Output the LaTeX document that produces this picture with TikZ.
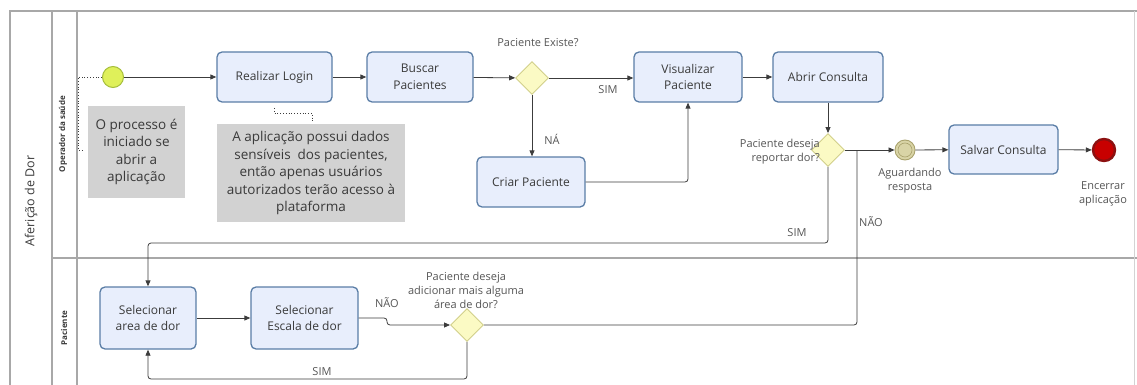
\documentclass[tikz,border=0pt]{standalone}
\usepackage{fontspec}
\setmainfont{Open Sans}
\usetikzlibrary{shapes.geometric,arrows.meta}
\definecolor{taskfill}{HTML}{E8EEFC}
\definecolor{taskdraw}{HTML}{5A7DA6}
\definecolor{gwfill}{HTML}{FBFAC4}
\definecolor{gwdraw}{HTML}{D2D08A}
\definecolor{startfill}{HTML}{DFF05A}
\definecolor{startdraw}{HTML}{A6BE3C}
\definecolor{ievfill}{HTML}{D9D4A6}
\definecolor{ievdraw}{HTML}{A9A26C}
\definecolor{endfill}{HTML}{C80000}
\definecolor{enddraw}{HTML}{8C1010}
\definecolor{notefill}{HTML}{D2D2D2}
\definecolor{lanecol}{HTML}{A8A8A8}
\definecolor{flowcol}{HTML}{3C3C3C}
\definecolor{txtcol}{HTML}{3A3A3A}
\definecolor{lblcol}{HTML}{555555}
\tikzset{
  task/.style={draw=taskdraw, fill=taskfill, line width=1.3pt, rounded corners=5pt,
    minimum width=108pt, minimum height=50pt, inner sep=0pt, align=center,
    font=\fontsize{12}{16.5}\selectfont, text=txtcol},
  gw/.style={diamond, aspect=1, draw=gwdraw, fill=gwfill, line width=0.9pt,
    minimum width=33pt, minimum height=33pt, inner sep=0pt},
  startev/.style={circle, draw=startdraw, fill=startfill, line width=1pt, minimum size=21pt, inner sep=0pt},
  iev/.style={circle, draw=ievdraw, fill=ievfill, line width=0.9pt, minimum size=20pt, inner sep=0pt},
  endev/.style={circle, draw=enddraw, fill=endfill, line width=2.4pt, minimum size=22pt, inner sep=0pt},
  note/.style={fill=notefill, inner sep=0pt, align=center, text=txtcol,
    font=\fontsize{13.5}{17.5}\selectfont},
  flow/.style={draw=flowcol, line width=0.8pt, rounded corners=3pt, -{Triangle[length=6pt,width=5pt]}},
  flowplain/.style={draw=flowcol, line width=0.8pt, rounded corners=3pt},
  assoc/.style={draw=flowcol, line width=0.8pt, dotted},
  lbl/.style={font=\fontsize{11}{14}\selectfont, text=lblcol, align=center, inner sep=0pt},
  lane/.style={draw=lanecol, line width=1.2pt}
}
\begin{document}
\begin{tikzpicture}[x=1pt,y=-1pt]
\useasboundingbox (0,0) rectangle (1137,385);
% pool and lanes
\draw[lane] (10,385) -- (10,11) -- (1137,11);
\draw[lane] (52,11) -- (52,385);
\draw[lane] (77,11) -- (77,385);
\draw[lane] (52,258) -- (1137,258);
\draw[draw=lanecol!50, line width=0.8pt] (1134,11) -- (1134,385);
\node[rotate=90, font=\fontsize{12.5}{15}\selectfont, text=txtcol] (pool) at (31,201) {Aferição de Dor};
\node[rotate=90, font=\fontsize{8}{9}\bfseries\selectfont, text=txtcol] (lane1) at (63,134) {Operador da saúde};
\node[rotate=90, font=\fontsize{8}{9}\bfseries\selectfont, text=txtcol] (lane2) at (64,328) {Paciente};

% annotations
\node[note, minimum width=97pt, minimum height=92pt] (note1) at (136.5,152) {O processo é\\iniciado se\\abrir a\\aplicação};
\node[note, minimum width=188pt, minimum height=98pt] (note2) at (311,173) {A aplicação possui dados\\sensíveis\ \ dos pacientes,\\então apenas usuários\\autorizados terão acesso à\\plataforma};

% nodes
\node[startev] (start) at (113,77) {};
\node[task, minimum width=115pt] (login) at (274.5,77) {Realizar Login};
\node[task, minimum width=106pt] (buscar) at (420,77) {Buscar\\Pacientes};
\node[gw] (g1) at (532,78) {};
\node[task] (visual) at (688,77) {Visualizar\\Paciente};
\node[task] (criar) at (531,182) {Criar Paciente};
\node[task, minimum width=110pt] (abrir) at (828,77) {Abrir Consulta};
\node[gw] (g2) at (828,150) {};
\node[iev] (wait) at (905,150) {};
\node[circle, draw=ievdraw, line width=0.6pt, minimum size=14pt, inner sep=0pt] (waitin) at (wait.center) {};
\node[task, minimum width=109pt, minimum height=49pt] (salvar) at (1003.5,149.5) {Salvar Consulta};
\node[endev] (end) at (1104,150) {};
\node[task, minimum width=96pt, minimum height=62pt] (area) at (148,318) {Selecionar\\area de dor};
\node[task, minimum width=107pt, minimum height=62pt] (escala) at (304.5,318) {Selecionar\\Escala de dor};
\node[gw] (g3) at (467,325) {};

% labels
\node[lbl] (lg1) at (538,43) {Paciente Existe?};
\node[lbl, align=right, anchor=east] (lg2) at (820,152) {Paciente deseja\\reportar dor?};
\node[lbl] (lg3) at (466,290) {Paciente deseja\\adicionar mais alguma\\área de dor?};
\node[lbl] (lwait) at (910,181) {Aguardando\\resposta};
\node[lbl] (lend) at (1103,194) {Encerrar\\aplicação};
\node[lbl] (lsim1) at (608,90) {SIM};
\node[lbl] (lna) at (552,139) {NÁ};
\node[lbl] (lsim2) at (797,233) {SIM};
\node[lbl] (lnao1) at (387,303) {NÃO};
\node[lbl] (lsim3) at (322,372) {SIM};
\node[lbl] (lnao2) at (871,222) {NÃO};

% associations
\coordinate (n1c) at (83,150);
\draw[assoc] (start.west) -- (78,77) -- (78,150) -- (n1c);
\coordinate (n2a) at (274,108);
\draw[assoc] (n2a) -- (274,113) -- (312,113) -- (312,123);

% flows
\draw[flow] (start) -- (login);
\draw[flow] (login) -- (buscar);
\draw[flow] (buscar) -- (g1);
\draw[flow] (g1) -- (visual.west |- g1);
\draw[flow] (g1) -- (criar.north -| g1);
\draw[flow] (criar.east) -| (visual.south);
\draw[flow] (visual) -- (abrir);
\draw[flow] (abrir) -- (g2);
\draw[flow] (g2) -- (wait);
\draw[flow] (wait) -- (salvar);
\draw[flow] (salvar) -- (end);
\draw[flow] (g2.south) -- (828,243) -| (area.north);
\draw[flow] (area) -- (escala);
\draw[flow] (escala.east) -- (387,318) -- (387,325) -- (g3.west);
\draw[flow] (g3.south) -- (467,379) -| (area.south);
\draw[flowplain] (g3.east) -- (857,325) -- (857,150);
\end{tikzpicture}
\end{document}
